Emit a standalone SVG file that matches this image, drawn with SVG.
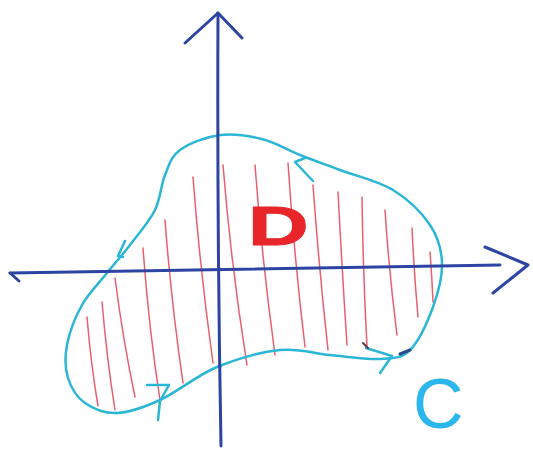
<svg xmlns="http://www.w3.org/2000/svg" width="533" height="450" viewBox="0 0 533 450">
<style>
.axis{fill:none;stroke:#2d44a3;stroke-width:3;stroke-linecap:round;stroke-linejoin:round}
.curve{fill:none;stroke:#2bb6d6;stroke-width:2.5;stroke-linecap:round;stroke-linejoin:round}
.hatch{fill:none;stroke:#e8606e;stroke-width:1.5;stroke-linecap:round}
.lbl{font-family:"Liberation Sans",Arial,sans-serif}
</style>
<rect width="533" height="450" fill="#ffffff"/>
<g id="hatching">
<path class="hatch" d="M87,317 Q91,365 98,406"/>
<path class="hatch" d="M102,302 Q107,360 115,410"/>
<path class="hatch" d="M115,278 Q123,340 135,397"/>
<path class="hatch" d="M143,248 Q149,330 160,400"/>
<path class="hatch" d="M165,220 Q171,300 183,383"/>
<path class="hatch" d="M193,177 Q200,270 213,363"/>
<path class="hatch" d="M223,165 Q231,265 247,365"/>
<path class="hatch" d="M255,165 Q262,260 275,355"/>
<path class="hatch" d="M288,163 Q294,255 305,347"/>
<path class="hatch" d="M313,185 Q319,268 328,350"/>
<path class="hatch" d="M338,192 Q342,268 347,345"/>
<path class="hatch" d="M362,197 Q363,272 367,347"/>
<path class="hatch" d="M385,210 Q389,272 397,335"/>
<path class="hatch" d="M412,228 Q414,272 418,317"/>
<path class="hatch" d="M430,252 Q432,277 433,302"/>
</g>
<g id="region-curve">
<path class="curve" d="M220,135 C233.7,133.2 248.7,135.7 262,139 C275.3,142.3 287,149.8 300,155 C313,160.2 324.5,164.2 340,170 C355.5,175.8 378,180.8 393,190 C408,199.2 421.8,212.8 430,225 C438.2,237.2 441.5,249.3 442,263 C442.5,276.7 438.3,292.5 433,307 C427.7,321.5 418.8,341.3 410,350 C401.2,358.7 393.3,358.2 380,359 C366.7,359.8 346.7,356.5 330,355 C313.3,353.5 298.8,348 280,350 C261.2,352 237,358.7 217,367 C197,375.3 176.7,392.3 160,400 C143.3,407.7 129.5,412.5 117,413 C104.5,413.5 93.2,408.8 85,403 C76.8,397.2 71,387.7 68,378 C65,368.3 64.7,357.2 67,345 C69.3,332.8 75.3,317 82,305 C88.7,293 99,283 107,273 C115,263 122,255.5 130,245 C138,234.5 149.2,221.7 155,210 C160.8,198.3 160.8,185 165,175 C169.2,165 170.8,156.7 180,150 C189.2,143.3 206.3,136.8 220,135 Z"/>
<path class="curve" stroke-width="2" d="M125,241 L118,256 L123,257"/>
<path class="curve" stroke-width="2" d="M305,158 L295,162 L313,181"/>
<path class="curve" stroke-width="2" d="M147,385 L169,385 L160,401 L158,420"/>
<path class="curve" stroke-width="2" d="M366,348 L392,356 L380,373"/>
<path fill="none" stroke="#2a4a8c" stroke-width="3" stroke-linecap="round" d="M400,354 L410,350"/>
<path fill="none" stroke="#5a3a4a" stroke-width="2" stroke-linecap="round" d="M363,343 L368,348"/>
</g>
<g id="axes">
<path class="axis" d="M10,273 Q250,268 500,265"/>
<path class="axis" d="M10,273 L19,281"/>
<path class="axis" d="M485,247 L528,265 L493,293"/>
<path class="axis" d="M218,13 Q217,230 221,446"/>
<path class="axis" d="M185,43 L218,13 L242,38"/>
</g>
<g id="labels">
<text class="lbl" transform="translate(248,245) scale(1.5,1)" font-size="56" font-weight="bold" fill="#e8262a" stroke="#e8262a" stroke-width="1">D</text>
<text class="lbl" x="413" y="428" font-size="70" fill="#2bb6ee">C</text>
</g>
</svg>
